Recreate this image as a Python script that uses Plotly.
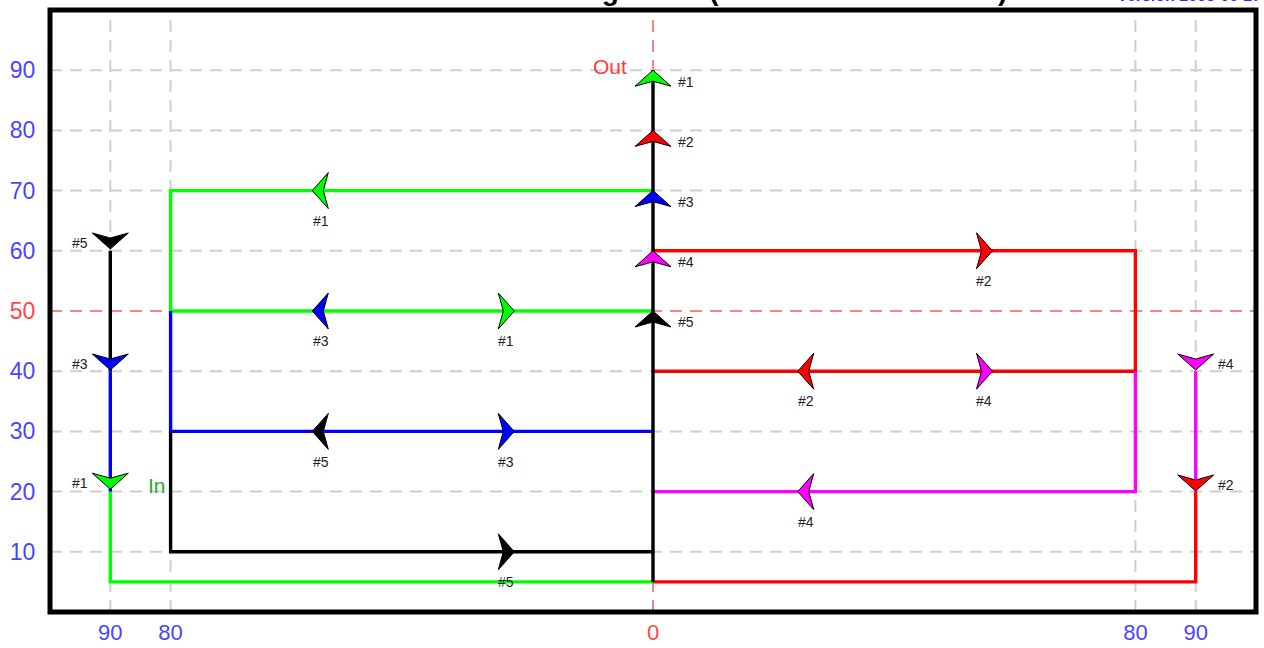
import plotly.graph_objects as go

# ---------------- data ----------------
x_tick_vals = [-90, -80, 0, 80, 90]
x_tick_text = ["90", "80", "0", "80", "90"]
y_tick_vals = [10, 20, 30, 40, 50, 60, 70, 80, 90]
y_tick_text = ["10", "20", "30", "40", "50", "60", "70", "80", "90"]
center_x = 0
center_y = 50

pass_names = ["#1", "#2", "#3", "#4", "#5"]
pass_colors = ["#00ff00", "#ff0000", "#0000ff", "#ff00ff", "#000000"]

# routes of each pass (None separates segments)
pass1_x = [-90, -90, 0, None, 0, -80, -80, 0]
pass1_y = [20, 5, 5, None, 70, 70, 50, 50]
pass2_x = [0, 90, 90, None, 0, 80, 80, 0]
pass2_y = [5, 5, 20, None, 60, 60, 40, 40]
pass3_x = [-90, -90, None, -80, -80, 0]
pass3_y = [20, 40, None, 50, 30, 30]
pass4_x = [90, 90, None, 80, 80, 0]
pass4_y = [20, 40, None, 40, 20, 20]
pass5_x = [-90, -90, None, -80, -80, 0, None, 0, 0]
pass5_y = [40, 60, None, 30, 10, 10, None, 5, 90]

routes_x = [pass1_x, pass2_x, pass3_x, pass4_x, pass5_x]
routes_y = [pass1_y, pass2_y, pass3_y, pass4_y, pass5_y]

# flow arrows: tip position, direction, pass index (0..4)
arrow_x = [0, 0, 0, 0, 0,
           -90, -90, -90,
           90, 90,
           -56.5, -56.5, -23, -56.5, -23, -23,
           56.3, 24, 56.3, 24]
arrow_y = [90, 80, 70, 60, 50,
           60.3, 40.2, 20.4,
           40.2, 20.1,
           70, 50, 50, 30, 30, 10,
           60, 40, 40, 20]
arrow_dir = ["up", "up", "up", "up", "up",
             "down", "down", "down",
             "down", "down",
             "left", "left", "right", "left", "right", "right",
             "right", "left", "right", "left"]
arrow_pass = [0, 1, 2, 3, 4,
              4, 2, 0,
              3, 1,
              0, 2, 0, 4, 2, 4,
              1, 1, 3, 3]

inlet_label = "In"
inlet_pos = (-84, 21)
outlet_label = "Out"
outlet_pos = (-4, 90.6)

title_text = "Pass Arrangement (Tube Side Schematic)"
version_text = "Version 2005-06-27"

# ---------------- layout constants ----------------
X_RANGE = [-100, 100]
Y_RANGE = [0, 100]
MARGIN = dict(l=50, r=8, t=10, b=36)
W, H = 1264, 648
PX_X = (W - MARGIN["l"] - MARGIN["r"]) / (X_RANGE[1] - X_RANGE[0])
PX_Y = (H - MARGIN["t"] - MARGIN["b"]) / (Y_RANGE[1] - Y_RANGE[0])

BLUE_TXT = "#4646ff"
RED_TXT = "#ff4646"

fig = go.Figure()

# grid lines
for v in x_tick_vals:
    is_c = v == center_x
    fig.add_vline(x=v, line=dict(color="#ff5a5a" if is_c else "#cfcfcf",
                                 width=1.5 if is_c else 2, dash="12px,8px"),
                  layer="below")
for v in y_tick_vals:
    is_c = v == center_y
    fig.add_hline(y=v, line=dict(color="#ff5a5a" if is_c else "#cfcfcf",
                                 width=1.5 if is_c else 2, dash="12px,8px"),
                  layer="below")

# routes
for i in range(5):
    fig.add_trace(go.Scatter(x=routes_x[i], y=routes_y[i], mode="lines",
                             line=dict(color=pass_colors[i], width=3.4),
                             hoverinfo="skip", showlegend=False))

# arrow heads
DIRS = {"up": (0, 1), "down": (0, -1), "left": (-1, 0), "right": (1, 0)}
L_, W_, N_ = 16, 18, 11
shape_pts = [(0, 0), (-L_, W_), (-N_, 0), (-L_, -W_), (0, 0)]

annotations = []
for i in range(5):
    xs, ys = [], []
    for tx, ty, d, p in zip(arrow_x, arrow_y, arrow_dir, arrow_pass):
        if p != i:
            continue
        dx, dy = DIRS[d]
        qx, qy = -dy, dx
        for a, b in shape_pts:
            xs.append(tx + (a * dx + b * qx) / PX_X)
            ys.append(ty + (a * dy + b * qy) / PX_Y)
        xs.append(None)
        ys.append(None)
    fig.add_trace(go.Scatter(x=xs, y=ys, mode="lines", fill="toself",
                             fillcolor=pass_colors[i],
                             line=dict(color="#000000", width=1),
                             hoverinfo="skip", showlegend=False))

# arrow labels
for tx, ty, d, p in zip(arrow_x, arrow_y, arrow_dir, arrow_pass):
    dx, dy = DIRS[d]
    if d == "up":
        lx, ly, xa = tx + 3.8, ty - 1.9, "left"
    elif d == "down":
        if tx < 0:
            lx, ly, xa = tx - 3.3, ty + 1.0, "right"
        else:
            lx, ly, xa = tx + 3.3, ty + 1.0, "left"
    else:
        lx, ly, xa = tx - dx * 1.4, ty - 5.0, "center"
    annotations.append(dict(x=lx, y=ly, xref="x", yref="y", text=pass_names[p],
                            showarrow=False, xanchor=xa, yanchor="middle",
                            font=dict(family="Arial", size=14, color="#222222")))

annotations.append(dict(x=inlet_pos[0], y=inlet_pos[1], xref="x", yref="y",
                        text=inlet_label, showarrow=False, xanchor="left",
                        yanchor="middle",
                        font=dict(family="Arial", size=21, color="#2ca82c")))
annotations.append(dict(x=outlet_pos[0], y=outlet_pos[1], xref="x", yref="y",
                        text=outlet_label, showarrow=False, xanchor="right",
                        yanchor="middle",
                        font=dict(family="Arial", size=21, color="#ff3c3c")))

# title (mostly off the top of the page) and version note
annotations.append(dict(x=0.795, y=1, xref="paper", yref="paper",
                        text="<b>" + title_text + "</b>", showarrow=False,
                        xanchor="right", yanchor="bottom", yshift=2,
                        font=dict(family="Arial", size=28, color="#000000")))
annotations.append(dict(x=1.006, y=1, xref="paper", yref="paper",
                        text="<b>" + version_text + "</b>", showarrow=False,
                        xanchor="right", yanchor="bottom", yshift=4,
                        font=dict(family="Arial", size=16, color="#2a2aff")))

# frame
fig.add_shape(type="rect", xref="paper", yref="paper", x0=0, x1=1, y0=0, y1=1,
              line=dict(color="black", width=5), layer="above")

x_text = [("<span style='color:%s'>%s</span>" % (RED_TXT if v == center_x else BLUE_TXT, t))
          for v, t in zip(x_tick_vals, x_tick_text)]
y_text = [("<span style='color:%s'>%s</span>" % (RED_TXT if v == center_y else BLUE_TXT, t))
          for v, t in zip(y_tick_vals, y_tick_text)]

fig.update_layout(
    width=W, height=H, margin=MARGIN,
    plot_bgcolor="white", paper_bgcolor="white",
    showlegend=False,
    annotations=annotations,
    xaxis=dict(range=X_RANGE, showgrid=False, zeroline=False, tickmode="array",
               tickvals=x_tick_vals, ticktext=x_text, ticks="outside", ticklen=1,
               tickcolor="rgba(0,0,0,0)", automargin=False,
               tickfont=dict(family="Arial", size=22, color=BLUE_TXT),
               fixedrange=True),
    yaxis=dict(range=Y_RANGE, showgrid=False, zeroline=False, tickmode="array",
               tickvals=y_tick_vals, ticktext=y_text, ticks="outside", ticklen=9,
               tickcolor="rgba(0,0,0,0)", automargin=False,
               tickfont=dict(family="Arial", size=23, color=BLUE_TXT),
               fixedrange=True),
)

fig.write_html("out.html", config={"displayModeBar": False},
               post_script="document.body.style.margin='0';document.body.style.overflow='hidden';")
